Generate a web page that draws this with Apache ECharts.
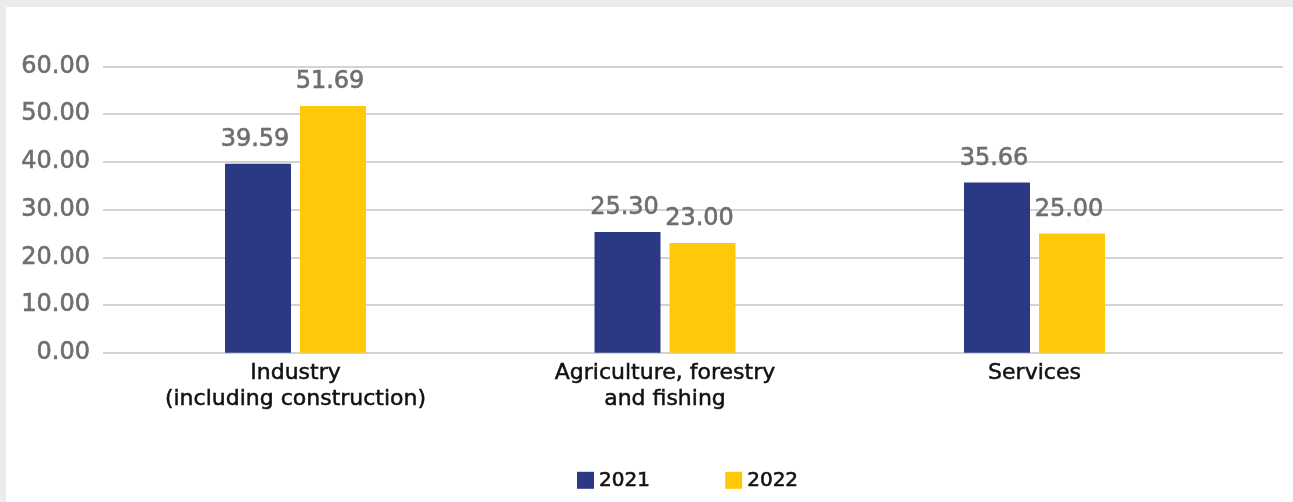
<!DOCTYPE html>
<html>
<head>
<meta charset="utf-8">
<script src="https://cdn.jsdelivr.net/npm/echarts@6/dist/echarts.min.js"></script>
<style>
  html, body { margin: 0; padding: 0; background: #ffffff; }
  #chart { width: 1293px; height: 502px; }
</style>
</head>
<body>
<div id="chart"></div>
<script>
// Sectors and yearly values
const categories = ['Industry\n(including construction)', 'Agriculture, forestry\nand fishing', 'Services'];
const seriesNames = ['2021', '2022'];
const values2021 = [39.59, 25.30, 35.66];
const values2022 = [51.69, 23.00, 25.00];
const yTicks = [0, 10, 20, 30, 40, 50, 60];

const colors = ['#2b3985', '#ffc90a'];
const font = 'DejaVu Sans';
const grayText = '#6d6e71';
const darkText = '#111111';

const chart = echarts.init(document.getElementById('chart'), null, { renderer: 'canvas' });

const gridTop = 66.3, gridBottom = 149.2;

chart.setOption({
  backgroundColor: '#ffffff',
  animation: false,
  color: colors,
  textStyle: { fontFamily: font },
  graphic: [
    { type: 'rect', shape: { x: 0, y: 0, width: 1293, height: 7 }, style: { fill: '#ebebeb' }, silent: true },
    { type: 'rect', shape: { x: 0, y: 0, width: 6, height: 502 }, style: { fill: '#ebebeb' }, silent: true }
  ],
  legend: {
    left: 577,
    top: 470,
    padding: 0,
    itemWidth: 17,
    itemHeight: 17,
    itemGap: 75,
    icon: 'rect',
    data: seriesNames,
    textStyle: {
      fontFamily: font, fontSize: 20, color: darkText,
      textBorderColor: darkText, textBorderWidth: 0.6
    }
  },
  grid: [
    // full-width grid carrying the value gridlines and tick labels
    { left: 103, right: 10, top: gridTop, bottom: gridBottom },
    // grid holding the bars and category labels
    { left: 110.75, right: 73.75, top: gridTop, bottom: gridBottom }
  ],
  xAxis: [
    { type: 'value', gridIndex: 0, show: false, min: 0, max: 1 },
    {
      type: 'category', gridIndex: 1, data: categories,
      axisLine: { show: false }, axisTick: { show: false },
      axisLabel: {
        fontFamily: font, fontSize: 22, lineHeight: 25.5, color: darkText, margin: 8, interval: 0,
        textBorderColor: darkText, textBorderWidth: 0.5
      }
    }
  ],
  yAxis: [
    {
      type: 'value', gridIndex: 0,
      min: yTicks[0], max: yTicks[yTicks.length - 1], interval: yTicks[1] - yTicks[0],
      axisLine: { show: false }, axisTick: { show: false },
      splitLine: { lineStyle: { color: '#d3d3d3', width: 2 } },
      axisLabel: {
        fontFamily: font, fontSize: 24, color: grayText, margin: 13, padding: [6, 0, 0, 0],
        textBorderColor: grayText, textBorderWidth: 0.6,
        formatter: v => v.toFixed(2)
      }
    },
    {
      type: 'value', gridIndex: 1, show: false,
      min: yTicks[0], max: yTicks[yTicks.length - 1], interval: yTicks[1] - yTicks[0],
      splitLine: { show: false }
    }
  ],
  series: [values2021, values2022].map((vals, i) => ({
    name: seriesNames[i],
    type: 'bar',
    xAxisIndex: 1,
    yAxisIndex: 1,
    data: vals,
    barWidth: 66,
    barGap: '13.6%',
    itemStyle: { color: colors[i] },
    label: {
      show: true,
      position: 'top',
      distance: 12,
      offset: [-3, 0],
      fontFamily: font,
      fontSize: 24,
      color: grayText,
      textBorderColor: grayText,
      textBorderWidth: 0.6,
      formatter: p => p.value.toFixed(2)
    }
  }))
});
</script>
</body>
</html>
